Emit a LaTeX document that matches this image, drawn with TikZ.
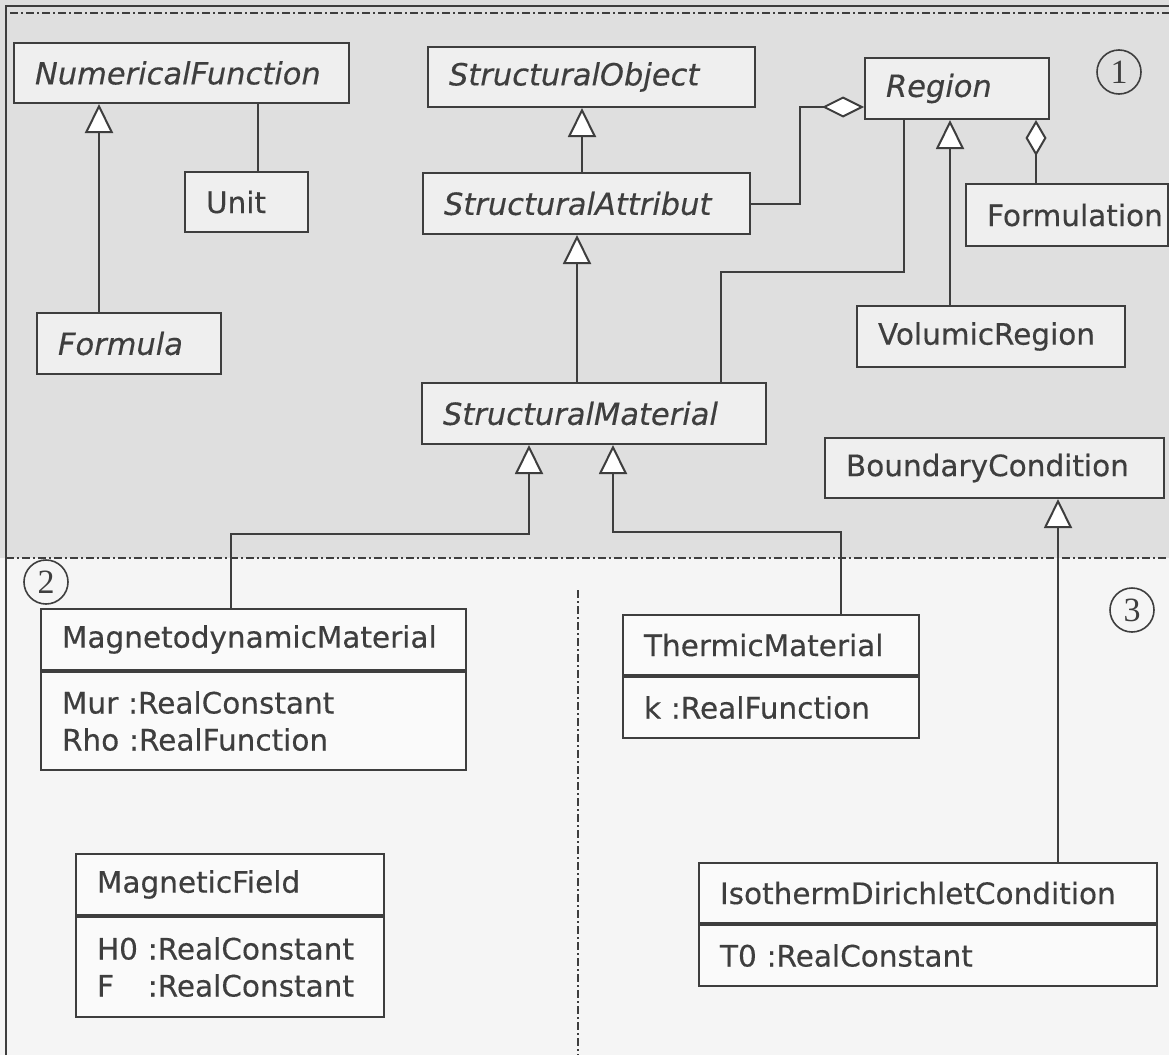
\documentclass[tikz,border=0pt]{standalone}
\usepackage{fontspec}
\setmainfont{DejaVu Sans}[FakeBold=0.35]
\newfontfamily\digitfont{Liberation Serif}
\usetikzlibrary{arrows.meta}

\definecolor{ink}{HTML}{3E3E3E}
\definecolor{pagegrey}{HTML}{DFDFDF}
\definecolor{pagelight}{HTML}{F5F5F5}
\definecolor{boxgrey}{HTML}{EFEFEF}
\definecolor{boxlight}{HTML}{FAFAFA}

\tikzset{
  cls/.style={draw=ink, line width=2pt, fill=boxgrey, text=ink, anchor=north west,
    inner xsep=21pt, inner ysep=0pt, align=left, font=\fontsize{29.5}{37}\selectfont},
  abstract/.style={cls, font=\fontsize{30.5}{37}\selectfont\itshape},
  gen/.style={draw=ink, line width=2pt, -{Triangle[length=29pt, width=28pt, fill=white]}},
  assoc/.style={draw=ink, line width=2pt},
  agg/.style={draw=ink, line width=2pt, -{Diamond[length=42pt, width=21pt, fill=white]}},
  aggv/.style={draw=ink, line width=2pt, -{Diamond[length=36pt, width=21pt, fill=white]}},
  zone/.style={draw=ink, line width=1.3pt, dash pattern=on 8pt off 3pt on 2pt off 3pt},
  tag/.style={circle, draw=ink, line width=1.6pt, minimum size=44pt, inner sep=0pt,
    text=ink, font=\digitfont\fontsize{34}{34}\selectfont}
}

\begin{document}
\begin{tikzpicture}[x=1pt, y=-1pt]
\useasboundingbox (0,0) rectangle (1169,1055);
% page and zones
\fill[pagelight] (0,0) rectangle (1169,1055);
\fill[pagegrey] (0,0) rectangle (1169,558);
\draw[ink, line width=1.8pt] (6,1055) -- (6,6) -- (1169,6);
\draw[zone] (10,13) -- (1169,13);
\draw[zone] (6,558) -- (1169,558);
\draw[zone] (578,590) -- (578,1055);

% structure classes
\node[abstract, text width=293pt, minimum height=60pt] (nf) at (13,42) {NumericalFunction};
\node[cls, text width=81pt, minimum height=60pt] (unit) at (184,171) {Unit};
\node[abstract, text width=142pt, minimum height=61pt] (formula) at (36,312) {Formula};
\node[abstract, text width=285pt, minimum height=60pt] (sobj) at (427,46) {StructuralObject};
\node[abstract, text width=285pt, minimum height=61pt] (sattr) at (422,172) {StructuralAttribut};
\node[abstract, text width=302pt, minimum height=61pt] (sm) at (421,382) {StructuralMaterial};
\node[abstract, text width=142pt, minimum height=61pt] (region) at (864,57) {Region};
\node[cls, text width=160pt, minimum height=62pt] (formulation) at (965,183) {Formulation};
\node[cls, text width=226pt, minimum height=61pt] (vr) at (856,305) {VolumicRegion};
\node[cls, text width=297pt, minimum height=60pt] (bc) at (824,437) {BoundaryCondition};

% physics classes with attributes
\node[cls, fill=boxlight, text width=383pt, minimum height=61pt] (mdm) at (40,608) {MagnetodynamicMaterial};
\node[cls, fill=boxlight, text width=383pt, minimum height=98pt] (mdmattr) at (mdm.south west)
  {Mur :RealConstant\\Rho :RealFunction};
\node[cls, fill=boxlight, text width=266pt, minimum height=61pt] (mf) at (75,853) {MagneticField};
\node[cls, fill=boxlight, text width=266pt, minimum height=100pt] (mfattr) at (mf.south west)
  {H0 :RealConstant\\\leavevmode\rlap{F}\hphantom{H0} :RealConstant};
\node[cls, fill=boxlight, text width=254pt, minimum height=60pt] (tm) at (622,614) {ThermicMaterial};
\node[cls, fill=boxlight, text width=254pt, minimum height=61pt] (tmattr) at (tm.south west) {k :RealFunction};
\node[cls, fill=boxlight, text width=416pt, minimum height=60pt] (idc) at (698,862) {IsothermDirichletCondition};
\node[cls, fill=boxlight, text width=416pt, minimum height=61pt] (idcattr) at (idc.south west) {T0 :RealConstant};

% zone numbers
\node[tag] (one) at (1119,72) {1};
\node[tag] (two) at (46,582) {2};
\node[tag] (three) at (1132,610) {3};

% inheritance and links
\draw[gen] ([xshift=63pt]formula.north west) -- ([xshift=63pt]formula.north west |- nf.south);
\draw[assoc] ([xshift=74pt]unit.north west) -- ([xshift=74pt]unit.north west |- nf.south);
\draw[gen] ([xshift=160pt]sattr.north west) -- ([xshift=160pt]sattr.north west |- sobj.south);
\draw[gen] ([xshift=156pt]sm.north west) -- ([xshift=156pt]sm.north west |- sattr.south);
\coordinate (aggknee) at (800,107);
\draw[agg] (sattr.east) -| (aggknee) -- (aggknee -| region.west);
\coordinate (regknee) at (904,272);
\draw[assoc] ([xshift=300pt]sm.north west) |- (regknee) -- (regknee |- region.south);
\draw[gen] ([xshift=94pt]vr.north west) -- ([xshift=94pt]vr.north west |- region.south);
\draw[aggv] ([xshift=71pt]formulation.north west) -- ([xshift=71pt]formulation.north west |- region.south);
\coordinate (mdmknee) at (231,534);
\draw[gen] (mdmknee |- mdm.north) -- (mdmknee) -| ([xshift=108pt]sm.south west);
\coordinate (tmknee) at (841,532);
\draw[gen] (tmknee |- tm.north) -- (tmknee) -| ([xshift=192pt]sm.south west);
\draw[gen] ([xshift=360pt]idc.north west) -- ([xshift=360pt]idc.north west |- bc.south);
\end{tikzpicture}
\end{document}
